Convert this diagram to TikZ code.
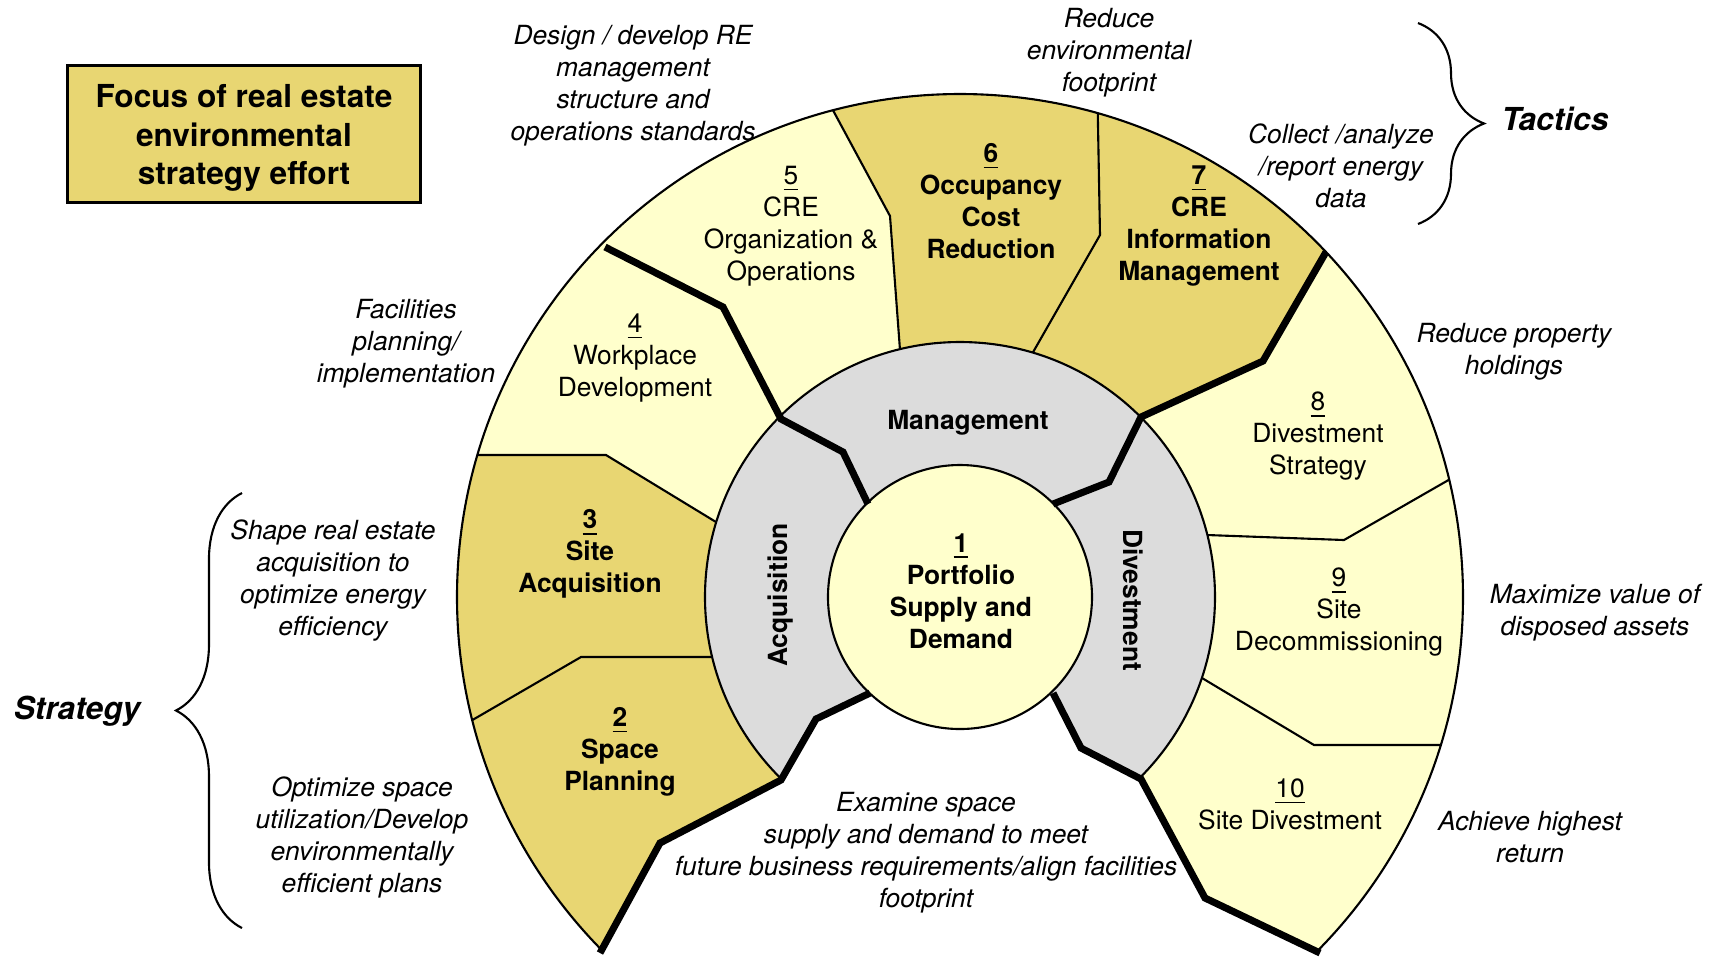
\documentclass[tikz,border=0pt]{standalone}
\usepackage{fontspec}
\setmainfont{TeX Gyre Heros}
\usetikzlibrary{decorations.pathreplacing}
\definecolor{gold}{RGB}{232,214,114}
\definecolor{cream}{RGB}{255,255,204}
\definecolor{ringgray}{RGB}{220,220,220}
\newcommand{\num}[1]{\underline{#1}}
\tikzset{
	thinline/.style={line width=0.6pt},
	thickline/.style={line width=2pt, line join=miter},
	sector/.style={align=center, inner sep=1pt, font=\fontsize{7.5}{9.1}\selectfont},
	bsector/.style={align=center, inner sep=1pt, font=\fontsize{7.5}{9.1}\selectfont\bfseries},
	note/.style={align=center, inner sep=1pt, font=\fontsize{7.5}{9.1}\selectfont\itshape},
	bracelabel/.style={inner sep=1pt, font=\fontsize{9}{11}\selectfont\bfseries\itshape},
	bracedeco/.style={thinline, decorate, decoration={brace, amplitude=0.66cm}}
}

\begin{document}
\begin{tikzpicture}[x=0.01cm, y=-0.01cm]
		\useasboundingbox (0,0) rectangle (1717,956);
		
		\coordinate (C) at (960,597);
		
		\coordinate (tl1) at (868,504);
		\coordinate (tl2) at (843,452);
		\coordinate (tl3) at (781,419);
		\coordinate (tl4) at (723,307);
		\coordinate (tl5) at (605,247);
		\coordinate (tl6) at (500,194);
		
		\coordinate (tr1) at (1053,504);
		\coordinate (tr2) at (1109,482);
		\coordinate (tr3) at (1141,417);
		\coordinate (tr4) at (1263,361);
		\coordinate (tr5) at (1326,252);
		\coordinate (tr6) at (1376,165);
		
		\coordinate (bl1) at (870,693);
		\coordinate (bl2) at (816,719);
		\coordinate (bl3) at (781,780);
		\coordinate (bl4) at (660,843);
		\coordinate (bl5) at (600,953);
		
		\coordinate (br1) at (1053,693);
		\coordinate (br2) at (1081,748);
		\coordinate (br3) at (1141,779);
		\coordinate (br4) at (1205,898);
		\coordinate (br5) at (1320,953);
		
		\coordinate (b34a) at (716,522);
		\coordinate (b34b) at (606,455);
		\coordinate (b34x) at (440,455);
		\coordinate (b23a) at (713,657);
		\coordinate (b23b) at (581,657);
		\coordinate (b23x) at (419,751);
		\coordinate (b56a) at (900,350);
		\coordinate (b56b) at (890,216);
		\coordinate (b56x) at (814,75);
		\coordinate (b67a) at (1032,354);
		\coordinate (b67b) at (1100,235);
		\coordinate (b67x) at (1097,70);
		\coordinate (b89a) at (1207,535);
		\coordinate (b89b) at (1344,540);
		\coordinate (b89x) at (1506,447);
		\coordinate (b910a) at (1202,678);
		\coordinate (b910b) at (1314,745);
		\coordinate (b910x) at (1500,745);
		
		\begin{scope}
			\clip (bl1) -- (bl2) -- (bl3) -- (bl4) -- (bl5) -- (600,1100) -- (-100,1100) -- (-100,-100) -- (1800,-100) -- (1800,1100) -- (1320,1100) -- (br5) -- (br4) -- (br3) -- (br2) -- (br1) -- cycle;
			\begin{scope}
				\clip (C) circle (503);
				\fill[gold] (bl3) -- (bl4) -- (bl5) -- (600,1100) -- (380,1100) -- (b23x) -- (b23b) -- (b23a) -- cycle;
				\fill[gold] (b34a) -- (b34b) -- (b34x) -- (380,455) -- (380,751) -- (b23x) -- (b23b) -- (b23a) -- cycle;
				\fill[cream] (tl3) -- (tl4) -- (tl6) -- (380,194) -- (380,455) -- (b34x) -- (b34b) -- (b34a) -- cycle;
				\fill[cream] (tl3) -- (tl4) -- (tl6) -- (500,40) -- (795,40) -- (b56x) -- (b56b) -- (b56a) -- cycle;
				\fill[gold] (b56a) -- (b56b) -- (b56x) -- (795,40) -- (1097,40) -- (b67x) -- (b67b) -- (b67a) -- cycle;
				\fill[gold] (b67a) -- (b67b) -- (b67x) -- (1097,40) -- (1450,40) -- (tr6) -- (tr4) -- (tr3) -- cycle;
				\fill[cream] (tr3) -- (tr4) -- (tr6) -- (1650,165) -- (1650,447) -- (b89x) -- (b89b) -- (b89a) -- cycle;
				\fill[cream] (b89a) -- (b89b) -- (b89x) -- (1650,447) -- (1650,745) -- (b910x) -- (b910b) -- (b910a) -- cycle;
				\fill[cream] (b910a) -- (b910b) -- (b910x) -- (1650,745) -- (1650,1100) -- (1320,1100) -- (br5) -- (br4) -- (br3) -- cycle;
				
				\draw[thinline] (b34a) -- (b34b) -- (b34x);
				\draw[thinline] (b23a) -- (b23b) -- (b23x);
				\draw[thinline] (b56a) -- (b56b) -- (b56x);
				\draw[thinline] (b67a) -- (b67b) -- (b67x);
				\draw[thinline] (b89a) -- (b89b) -- (b89x);
				\draw[thinline] (b910a) -- (b910b) -- (b910x);
			\end{scope}
			\draw[thinline] (C) circle (503);
			\draw[thinline, fill=ringgray] (C) circle (255);
		\end{scope}
		\draw[thinline, fill=cream] (C) circle (132);
		
		\draw[thickline] (tl1) -- (tl2) -- (tl3) -- (tl4) -- (tl5);
		\draw[thickline] (tr1) -- (tr2) -- (tr3) -- (tr4) -- (tr5);
		\draw[thickline] (bl1) -- (bl2) -- (bl3) -- (bl4) -- (bl5);
		\draw[thickline] (br1) -- (br2) -- (br3) -- (br4) -- (br5);
		
		\node[bsector] (s1) at (961,591) {\num{1}\\Portfolio\\Supply and\\Demand};
		\node[bsector] (s2) at (620,752) {\num{2}\\Space\\Planning};
		\node[bsector] (s3) at (590,554) {\num{3}\\Site\\Acquisition};
		\node[sector] (s4) at (635,358) {\num{4}\\Workplace\\Development};
		\node[sector] (s5) at (791,226) {\num{5}\\CRE\\Organization \&\\Operations};
		\node[bsector] (s6) at (991,201) {\num{6}\\Occupancy\\Cost\\Reduction};
		\node[bsector] (s7) at (1199,226) {\num{7}\\CRE\\Information\\Management};
		\node[sector] (s8) at (1318,436) {\num{8}\\Divestment\\Strategy};
		\node[sector] (s9) at (1339,612) {\num{9}\\Site\\Decommissioning};
		\node[sector] (s10) at (1290,804) {\num{10}\\Site Divestment};
		
		\node[bsector] (mgmt) at (968,423) {Management};
		\node[bsector, rotate=90] (acq) at (781,595) {Acquisition};
		\node[bsector, rotate=-90] (div) at (1133,600) {Divestment};
		
		\node[draw, fill=gold, line width=0.8pt, minimum width=3.52cm, minimum height=1.37cm] (title) at (244,134) {};
		\node[align=center, inner sep=0pt, font=\fontsize{9}{10.9}\selectfont\bfseries] (titletext) at (244,138) {Focus of real estate\\environmental\\strategy effort};
		
		\node[note] (n5) at (633,86) {Design / develop RE\\management\\structure and\\operations standards};
		\node[note] (n6) at (1109,53) {Reduce\\environmental\\footprint};
		\node[note] (n7) at (1341,166) {Collect /analyze\\/report energy\\data};
		\node[note] (n4) at (406,344) {Facilities\\planning/\\implementation};
		\node[note] (n8) at (1514,352) {Reduce property\\holdings};
		\node[note] (n9) at (1595,613) {Maximize value of\\disposed assets};
		\node[note] (n10) at (1530,837) {Achieve highest\\return};
		\node[note] (n1) at (926,853) {Examine space\\supply and demand to meet\\future business requirements/align facilities\\footprint};
		\node[note] (n3) at (333,581) {Shape real estate\\acquisition to\\optimize energy\\efficiency};
		\node[note] (n2) at (362,837) {Optimize space\\utilization/Develop\\environmentally\\efficient plans};
		
		\coordinate (ttop) at (1418,23);
		\coordinate (tbot) at (1418,224);
		\draw[bracedeco] (ttop) -- (tbot);
		\node[bracelabel] (tactics) at (1555,119) {Tactics};
		
		\coordinate (sbot) at (242,928);
		\coordinate (stop) at (242,493);
		\draw[bracedeco] (sbot) -- (stop);
		\node[bracelabel] (strategy) at (77,711) {Strategy};
		
	\end{tikzpicture}
\end{document}
